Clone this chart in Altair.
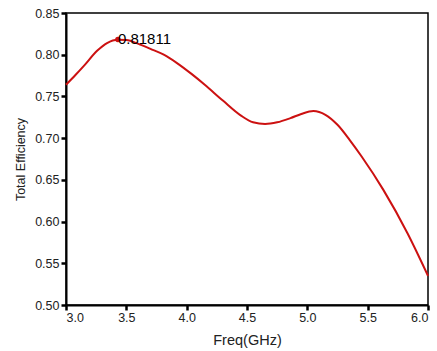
import altair as alt
import pandas as pd

freq = [3.0, 3.08, 3.15, 3.26, 3.34, 3.43, 3.5, 3.6, 3.7, 3.81, 3.92, 4.04,
        4.15, 4.3, 4.45, 4.55, 4.65, 4.75, 4.86, 4.95, 5.05, 5.15, 5.25, 5.35,
        5.45, 5.63, 5.83, 6.0]
eff = [0.764, 0.776, 0.787, 0.805, 0.814, 0.818, 0.8175, 0.813, 0.807, 0.800,
       0.790, 0.777, 0.764, 0.745, 0.727, 0.719, 0.717, 0.719, 0.724, 0.729,
       0.7325, 0.728, 0.716, 0.698, 0.678, 0.638, 0.586, 0.535]
peak_freq = [3.43]
peak_eff = [0.81811]
peak_label = ["0.81811"]

df = pd.DataFrame({"freq": freq, "eff": eff})
pk = pd.DataFrame({"freq": peak_freq, "eff": peak_eff, "label": peak_label})

xticks = [3.0 + 0.25 * i for i in range(13)]
yticks = [round(0.5 + 0.025 * i, 3) for i in range(15)]

FONT = "Liberation Sans"
RED = "#cc1111"
XMAJ = "abs(datum.value*2 - round(datum.value*2)) < 0.001"
YMAJ = "abs(datum.value*20 - round(datum.value*20)) < 0.001"

x_enc = alt.X("freq:Q", scale=alt.Scale(domain=[3.0, 6.0], nice=False, zero=False),
              axis=alt.Axis(title="Freq(GHz)", values=xticks, ticks=True,
                            tickSize=5, tickWidth=2.5, tickColor="black",
                            labelExpr=XMAJ + " ? format(datum.value, '.1f') : ''",
                            labelPadding=1, titlePadding=10, titleFontSize=14.5,
                            grid=False))
y_enc = alt.Y("eff:Q", scale=alt.Scale(domain=[0.5, 0.85], nice=False, zero=False),
              axis=alt.Axis(title="Total Efficiency", values=yticks, ticks=True,
                            tickSize=5, tickWidth=2.5, tickColor="black",
                            labelExpr=YMAJ + " ? format(datum.value, '.2f') : ''",
                            labelPadding=2, titlePadding=7, titleFontSize=12.5,
                            grid=False))

line = alt.Chart(df).mark_line(color=RED, strokeWidth=2, interpolate="monotone").encode(x=x_enc, y=y_enc)
dot = alt.Chart(pk).mark_point(filled=True, color=RED, size=30, opacity=1).encode(x="freq:Q", y="eff:Q")
txt = alt.Chart(pk).mark_text(align="left", baseline="middle", dx=0, dy=-1, fontSize=15,
                              font=FONT, color="black").encode(x="freq:Q", y="eff:Q", text="label:N")

chart = (line + dot + txt).properties(
    width=362, height=292,
    autosize=alt.AutoSizeParams(type="none"),
    padding={"left": 66, "top": 13, "right": 9, "bottom": 46},
).configure_view(stroke="black", strokeWidth=1.5).configure_axis(
    domainColor="black", domainWidth=2,
    labelFont=FONT, labelFontSize=12.5, labelColor="#222222",
    titleFont=FONT, titleFontWeight="normal", titleColor="#222222",
)

chart.save("out.html", embed_options={"renderer": "svg", "actions": False})
